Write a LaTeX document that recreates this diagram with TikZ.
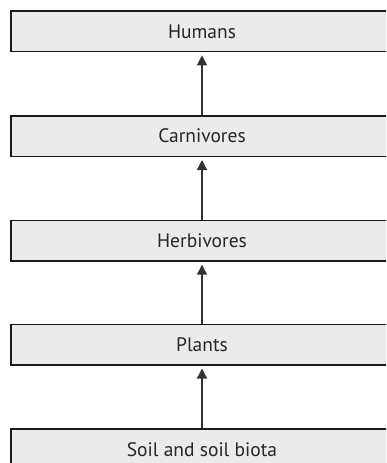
\documentclass[tikz,border=0pt]{standalone}
\usepackage{fontspec}
\setmainfont{PT Sans}
\usetikzlibrary{arrows.meta}
\tikzset{
  levelbox/.style={draw=black!90, line width=1.5pt, fill=black!8, minimum width=382pt, minimum height=40.5pt, inner sep=0pt, font=\fontsize{19.5pt}{22pt}\selectfont, text=black!85},
  uparrow/.style={draw=black!80, line width=1.3pt, -{Triangle[length=10pt,width=10pt]}, shorten >=3pt}
}
\begin{document}
\begin{tikzpicture}[x=1pt,y=1pt]
\useasboundingbox (0,0) rectangle (386,-463);
\clip (0,0) rectangle (386,-463);
\node[levelbox] (humans) at (202,-31.3) {Humans};
\node[levelbox] (carn) at (202,-136) {Carnivores};
\node[levelbox] (herb) at (202,-240.7) {Herbivores};
\node[levelbox] (plants) at (202,-344.5) {Plants};
\node[levelbox] (soil) at (202,-449.2) {Soil and soil biota};
\draw[uparrow] (soil.north) -- (plants.south);
\draw[uparrow] (plants.north) -- (herb.south);
\draw[uparrow] (herb.north) -- (carn.south);
\draw[uparrow] (carn.north) -- (humans.south);
\end{tikzpicture}
\end{document}
